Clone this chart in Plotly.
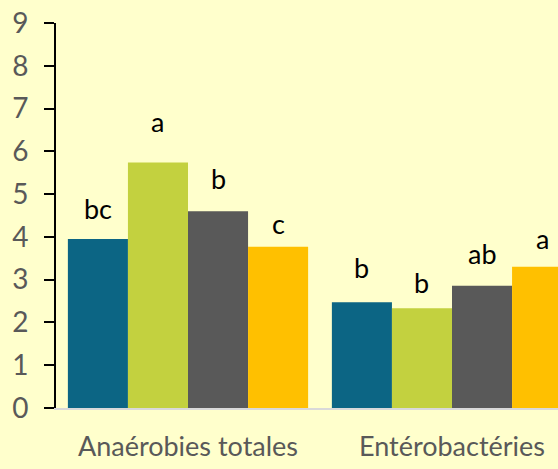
import plotly.graph_objects as go

categories = ["Anaérobies totales", "Entérobactéries"]
series_names = ["T1", "T2", "T3", "T4"]
series_values = [
    [3.95, 2.47],
    [5.74, 2.33],
    [4.60, 2.86],
    [3.77, 3.30],
]
series_letters = [
    ["bc", "b"],
    ["a", "b"],
    ["b", "ab"],
    ["c", "a"],
]
y_ticks = [0, 1, 2, 3, 4, 5, 6, 7, 8, 9]

colors = ["#0C6584", "#C3D13F", "#595959", "#FFC000"]
# vertical gap (px) between each bar top and the baseline of its letter
letter_gap = [
    [21, 25],
    [31, 16],
    [23, 23],
    [14, 19],
]

BG = "#FFFFCC"
FONT = "Lato"
bargap = 0.09
n = len(series_names)
bar_w = (1 - bargap) / n
cat_pos = list(range(len(categories)))

fig = go.Figure()
for i, name in enumerate(series_names):
    fig.add_trace(go.Bar(
        x=cat_pos, y=series_values[i], name=name,
        marker=dict(color=colors[i], line=dict(width=0)),
    ))

DESC = 9  # distance from text baseline to the bottom of the annotation box
for i in range(n):
    off = -(1 - bargap) / 2 + bar_w * (i + 0.5)
    for j, c in enumerate(cat_pos):
        fig.add_annotation(
            x=c + off, y=series_values[i][j], text=series_letters[i][j],
            showarrow=False, yanchor="bottom", xanchor="center",
            yshift=letter_gap[i][j] - DESC,
            font=dict(family=FONT, size=27, color="#000000"),
        )

plot_w = 558 - 56
cat_px = 264
fig.update_layout(
    width=558, height=469,
    margin=dict(l=56, r=0, t=23, b=61, pad=0),
    paper_bgcolor=BG, plot_bgcolor=BG,
    barmode="group", bargap=bargap, bargroupgap=0,
    showlegend=False,
    font=dict(family=FONT, color="#595959"),
)
fig.update_xaxes(
    range=[-0.5, -0.5 + plot_w / cat_px],
    tickvals=cat_pos, ticktext=categories,
    tickfont=dict(family=FONT, size=27, color="#595959"),
    showgrid=False, zeroline=False,
    showline=True, linecolor="#D9D9D9", linewidth=2,
    ticks="", ticklabelstandoff=14,
)
fig.update_yaxes(
    range=[0, 9], tickvals=y_ticks,
    tickfont=dict(family=FONT, size=28, color="#595959"),
    showgrid=False, zeroline=False,
    showline=True, linecolor="#000000", linewidth=2,
    ticks="outside", ticklen=10, tickwidth=2, tickcolor="#000000",
    ticklabelstandoff=10,
)

fig.write_html("out.html")
